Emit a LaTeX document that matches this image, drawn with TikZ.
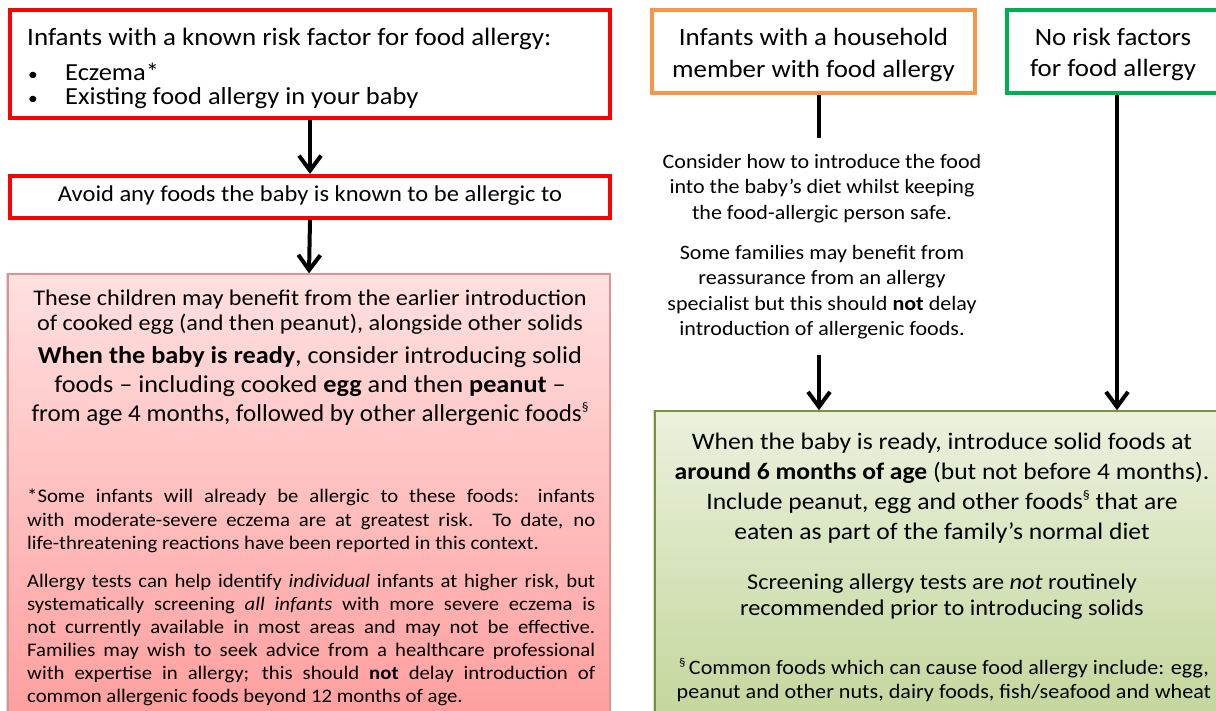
\documentclass[tikz,border=0pt]{standalone}
\usepackage{fontspec}
\usepackage{graphicx}
\setmainfont[FakeStretch=1.08]{Carlito}
\usetikzlibrary{arrows.meta,shadows}
\definecolor{boxred}{HTML}{FF0000}
\definecolor{boxorange}{HTML}{F79646}
\definecolor{boxgreen}{HTML}{00B050}
\definecolor{pinkedge}{HTML}{D99594}
\definecolor{pinktop}{HTML}{FFE0E0}
\definecolor{pinkbot}{HTML}{FF9E9E}
\definecolor{oliveedge}{HTML}{77933C}
\definecolor{greentop}{HTML}{EBF1DE}
\definecolor{greenbot}{HTML}{C3D69B}
\newcommand{\fs}[2]{\fontsize{#1}{#2}\selectfont}
\newcommand{\jl}[1]{\makebox[568pt][s]{#1}}
\newcommand{\sct}[1]{\raisebox{0.42em}{\fontsize{#1}{#1}\selectfont §}}
\begin{document}
\begin{tikzpicture}[x=1pt,y=-1pt,
  frame/.style={rectangle, inner sep=0pt, line width=4pt},
  softshadow/.style={drop shadow={shadow xshift=-2.5pt, shadow yshift=1pt, opacity=0.25, fill=black!60}},
  txt/.style={inner sep=0pt, anchor=north, align=center},
  ltxt/.style={inner sep=0pt, anchor=north west, align=left},
  arr/.style={line width=4pt, -{Straight Barb[length=15pt,width=22pt,line width=4pt]}},
  link/.style={line width=4pt}]
\useasboundingbox (0,0) rectangle (1216,711);
% boxes
\node[frame, draw=boxred, minimum width=600pt, minimum height=108pt] (risk) at (310,64) {};
\node[frame, draw=boxred, minimum width=600pt, minimum height=42pt] (avoid) at (310,197) {};
\node[frame, softshadow, draw=pinkedge, line width=1.2pt, top color=pinktop, bottom color=pinkbot, minimum width=602pt, minimum height=448pt] (early) at (309,498) {};
\node[frame, draw=boxorange, line width=3.5pt, minimum width=323pt, minimum height=83pt] (house) at (813.5,51.5) {};
\node[frame, draw=boxgreen, line width=3.5pt, minimum width=215pt, minimum height=83pt] (none) at (1114.5,51.5) {};
\node[frame, softshadow, draw=oliveedge, line width=1.5pt, top color=greentop, bottom color=greenbot, minimum width=567pt, minimum height=311pt] (solid) at (938.5,566.5) {};
% left texts
\node[ltxt, font=\fs{25}{29}] (riskhead) at (27,28) {Infants with a known risk factor for food allergy:};
\node[ltxt, font=\fs{24.5}{24}] (riskbul) at (28,63) {\makebox[37pt][l]{\fs{18}{24}•}Eczema*\\\makebox[37pt][l]{\fs{18}{24}•}Existing food allergy in your baby};
\node[txt, font=\fs{22.7}{27}] (avoidt) at (310,186) {Avoid any foods the baby is known to be allergic to};
\node[txt, font=\fs{22.4}{25}] (p1) at (310,290) {These children may benefit from the earlier introduction\\of cooked egg (and then peanut), alongside other solids};
\node[txt, font=\fs{24.3}{29}] (p2) at (310,346) {\textbf{When the baby is ready}, consider introducing solid\\foods – including cooked \textbf{egg} and then \textbf{peanut} –\\\scalebox{0.955}[1]{from age 4 months, followed by other allergenic foods\sct{13}}};
\node[ltxt, font=\fs{19.2}{23.5}] (p3) at (27,489) {\jl{*Some infants will already be allergic to these foods: infants}\\\jl{with moderate-severe eczema are at greatest risk. To date, no}\\life-threatening reactions have been reported in this context.};
\node[ltxt, font=\fs{19.2}{23}] (p4) at (27,574) {\jl{Allergy tests can help identify \textit{individual} infants at higher risk, but}\\\jl{systematically screening \textit{all infants} with more severe eczema is}\\\jl{not currently available in most areas and may not be effective.}\\\jl{Families may wish to seek advice from a healthcare professional}\\\jl{with expertise in allergy; this should \textbf{not} delay introduction of}\\common allergenic foods beyond 12 months of age.};
% right texts
\node[txt, font=\fs{24.9}{32}] (houset) at (813.5,28) {Infants with a household\\member with food allergy};
\node[txt, font=\fs{24.9}{31}] (nonet) at (1113,28) {No risk factors\\for food allergy};
\node[txt, font=\fs{20.4}{25.5}] (consider) at (822,154) {Consider how to introduce the food\\into the baby’s diet whilst keeping\\the food-allergic person safe.};
\node[txt, font=\fs{20.4}{25.5}] (reassure) at (822,245) {Some families may benefit from\\reassurance from an allergy\\specialist but this should \textbf{not} delay\\introduction of allergenic foods.};
\node[txt, font=\fs{23.7}{30}] (g1) at (942,433) {When the baby is ready, introduce solid foods at\\\textbf{around 6 months of age} (but not before 4 months).\\Include peanut, egg and other foods\sct{13} that are\\eaten as part of the family’s normal diet};
\node[txt, font=\fs{22.5}{26}] (g2) at (942,574) {Screening allergy tests are \textit{not} routinely\\recommended prior to introducing solids};
\node[txt, font=\fs{20.5}{24}] (g3) at (944,658) {\sct{12}\,Common foods which can cause food allergy include: egg,\\peanut and other nuts, dairy foods, fish/seafood and wheat};
% connectors
\draw[arr] (risk.south) -- (avoid.north);
\draw[arr] (avoid.south) -- (early.north);
\coordinate (hstop) at (819,138);
\draw[link] (house.south -| hstop) -- (hstop);
\coordinate (hstart) at (819,355);
\draw[arr] (hstart) -- (solid.north -| hstart);
\coordinate (nx) at (1117,0);
\draw[arr] (none.south -| nx) -- (solid.north -| nx);
\end{tikzpicture}
\end{document}
